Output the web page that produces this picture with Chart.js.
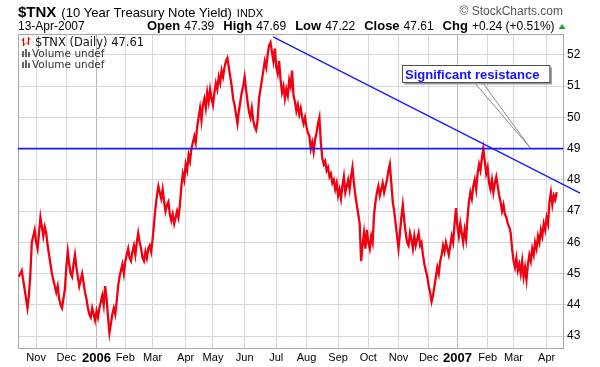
<!DOCTYPE html>
<html lang="en">
<head>
<meta charset="utf-8" />
<title>$TNX daily</title>
<script src="https://cdn.jsdelivr.net/npm/chart.js@4.4.1/dist/chart.umd.min.js"></script>
<style>
  html, body { margin: 0; padding: 0; background: #fff; }
  #wrap { width: 600px; height: 367px; }
</style>
</head>
<body>
<div id="wrap"><canvas id="c" width="600" height="367"></canvas></div>
<script>
// daily close of $TNX, one value per trading day, 14-Oct-2005 .. 13-Apr-2007
const closes = [
  44.9,45.0,45.1,44.8,44.5,44.2,43.9,44.3,45.0,46.0,46.2,46.4,46.0,45.8,46.3,46.8,46.5,46.2,46.5,46.3,45.9,45.6,45.3,45.0,44.8,
  44.6,44.4,44.6,44.2,44.0,43.9,44.2,44.5,45.2,45.7,45.3,45.0,44.9,45.3,45.6,45.2,44.9,44.6,44.8,45.0,44.7,44.4,44.2,43.9,43.7,
  43.6,43.9,43.7,43.5,43.8,43.6,43.9,44.1,44.3,44.0,44.6,44.2,43.6,43.1,43.4,43.7,43.9,43.7,44.1,44.6,44.9,45.1,45.3,45.0,45.4,
  45.6,45.8,45.5,45.4,45.7,45.9,45.6,46.0,46.3,46.0,45.8,45.5,45.4,45.7,45.5,45.8,45.9,45.7,46.1,46.6,47.1,47.5,47.8,47.6,47.4,
  47.7,47.3,47.0,47.2,47.3,46.9,46.7,46.9,46.6,46.8,47.0,46.8,47.2,47.8,48.2,48.0,48.5,48.3,48.8,48.6,49.0,49.2,49.4,49.2,49.7,
  50.0,50.3,49.9,50.4,50.6,50.3,50.8,50.5,50.9,50.6,50.4,50.8,51.1,50.9,51.3,51.1,51.5,51.3,51.6,51.8,51.9,51.6,51.3,51.0,50.6,
  50.4,50.1,49.8,50.2,50.5,50.8,51.0,51.3,50.9,50.5,50.2,50.0,50.3,49.9,49.7,49.6,49.9,50.6,50.9,51.2,51.5,51.8,51.6,52.0,52.3,
  52.4,52.1,51.8,52.2,51.6,51.4,51.8,51.2,50.8,51.0,50.6,50.9,50.7,51.2,51.0,51.5,50.7,50.5,50.2,50.4,50.1,50.3,50.0,49.8,50.0,
  49.7,49.5,49.4,49.0,49.2,48.9,49.3,49.5,49.8,50.0,49.2,48.7,48.5,48.6,48.3,48.4,48.1,48.2,47.9,48.0,47.7,47.9,47.5,47.7,47.4,
  47.8,48.1,47.6,47.8,48.0,47.7,48.1,48.4,47.9,47.5,47.2,46.9,46.6,45.4,45.9,46.3,45.8,46.4,46.0,45.8,46.2,46.0,46.9,47.3,47.6,
  47.8,47.5,47.7,47.9,47.6,47.8,48.0,48.3,48.5,47.9,47.3,47.0,46.6,46.2,45.8,46.3,46.8,47.2,46.7,46.3,46.0,45.9,46.3,46.1,45.8,
  46.2,45.9,46.1,46.3,45.9,46.0,45.6,45.3,45.1,44.9,44.6,44.4,44.1,44.3,44.6,44.9,45.2,45.0,45.4,45.6,45.9,45.7,46.0,45.8,45.6,
  45.9,46.2,46.0,46.6,47.1,46.5,46.2,46.6,46.3,46.0,46.4,46.1,46.8,47.3,47.6,47.4,47.8,48.0,47.7,48.2,48.5,48.3,48.7,49.0,48.6,
  48.2,48.4,47.9,47.7,48.0,47.6,47.9,48.1,47.8,47.5,47.3,47.0,47.2,46.9,46.8,46.6,46.5,46.3,45.8,45.4,45.2,45.5,45.1,45.3,45.0,
  45.4,44.9,45.2,44.8,45.3,45.6,45.4,45.8,45.6,46.0,45.8,46.2,46.0,46.4,46.2,46.6,46.4,46.8,46.6,47.3,47.6,47.2,47.5,47.37,47.61
]

// month gridlines (trading-day index of first bar of each month)
const monthTicks = [12, 33, 54, 74, 93, 116, 135, 157, 179, 200, 222, 243, 264, 285, 305, 326, 344, 367]
const monthLabels = ['Nov', 'Dec', '2006', 'Feb', 'Mar', 'Apr', 'May', 'Jun', 'Jul', 'Aug', 'Sep', 'Oct', 'Nov', 'Dec', '2007', 'Feb', 'Mar', 'Apr']
const yearTicks = [54, 305]
const yTicks = [43, 44, 45, 46, 47, 48, 49, 50, 51, 52]

// drawn lines
const resistanceLevel = 49
const trendX = [176.8, 390.3]
const trendY = [52.58, 47.58]

// callout: box anchor and pointer tip, in data units
const noteText = 'Significant resistance'
const noteAnchor = [266.5, 51.68]
const noteTip = [355.5, 49.03]

const xMin = -0.6, xMax = 378.4
const yMin = 42.62, yMax = 52.67

const SANS = '"Liberation Sans", Arial, sans-serif'
const DJV = '"DejaVu Sans", Verdana, sans-serif'

const overlay = {
  id: 'overlay',
  beforeDatasetsDraw(chart) {
    const { ctx, chartArea: a } = chart
    ctx.save()
    ctx.strokeStyle = '#a8a8a8'
    ctx.lineWidth = 1
    ctx.beginPath()
    ctx.moveTo(a.left + 0.5, a.bottom)
    ctx.lineTo(a.left + 0.5, a.top + 0.5)
    ctx.lineTo(a.right, a.top + 0.5)
    ctx.stroke()
    ctx.restore()
  },
  afterDatasetsDraw(chart) {
    const { ctx } = chart
    const xs = chart.scales.x, ys = chart.scales.y
    ctx.save()
    // callout
    ctx.font = 'bold 13px ' + SANS
    const tw = ctx.measureText(noteText).width
    const bx = Math.round(xs.getPixelForValue(noteAnchor[0])) + 0.5
    const by = Math.round(ys.getPixelForValue(noteAnchor[1])) + 0.5
    const bw = tw + 13, bh = 17
    const tx = xs.getPixelForValue(noteTip[0]), ty = ys.getPixelForValue(noteTip[1])
    ctx.beginPath()
    ctx.moveTo(bx + 72, by + bh)
    ctx.lineTo(tx, ty)
    ctx.lineTo(bx + 80, by + bh)
    ctx.closePath()
    ctx.fillStyle = '#fff'
    ctx.fill()
    ctx.strokeStyle = '#8a8a8a'
    ctx.lineWidth = 1
    ctx.stroke()
    ctx.fillStyle = '#9a9a9a'
    ctx.fillRect(bx + 2, by + 2, bw, bh)
    ctx.fillStyle = '#fff'
    ctx.fillRect(bx, by, bw, bh)
    ctx.strokeStyle = '#505050'
    ctx.strokeRect(bx, by, bw, bh)
    ctx.fillStyle = '#1212ff'
    ctx.textBaseline = 'alphabetic'
    ctx.fillText(noteText, bx + 2.5, by + 13)
    ctx.restore()
  },
  afterDraw(chart) {
    const { ctx } = chart
    ctx.save()
    ctx.textBaseline = 'alphabetic'
    ctx.fillStyle = '#000'
    // title line
    let x = 18
    ctx.font = 'bold 15px ' + SANS
    ctx.fillText('$TNX', x, 17)
    x += ctx.measureText('$TNX').width + 5
    ctx.font = '13px ' + SANS
    ctx.fillText('(10 Year Treasury Note Yield)', x, 17)
    x += ctx.measureText('(10 Year Treasury Note Yield)').width + 5
    ctx.font = '11px ' + SANS
    ctx.fillText('INDX', x, 17)

    ctx.fillStyle = '#555'
    ctx.font = '12px ' + SANS
    ctx.textAlign = 'right'
    ctx.fillText('\u00A9 StockCharts.com', 563, 15)
    ctx.textAlign = 'left'

    ctx.fillStyle = '#000'
    ctx.font = '12px ' + SANS
    ctx.fillText('13-Apr-2007', 18, 30)
    const stats = [['Open', '47.39'], ['High', '47.69'], ['Low', '47.22'], ['Close', '47.61'], ['Chg', '+0.24 (+0.51%)']]
    x = 147
    stats.forEach(([k, v], i) => {
      ctx.font = 'bold 13px ' + SANS
      ctx.fillText(k, x, 30)
      x += ctx.measureText(k).width + 4
      ctx.font = '12px ' + SANS
      ctx.fillText(v, x, 30)
      x += ctx.measureText(v).width + (i < stats.length - 1 ? 9 : 4)
    })
    ctx.fillStyle = '#2f9a2f'
    ctx.beginPath()
    ctx.moveTo(x, 29)
    ctx.lineTo(x + 7, 29)
    ctx.lineTo(x + 3.5, 24)
    ctx.closePath()
    ctx.fill()

    // legend inside the plot
    ctx.strokeStyle = '#e00000'
    ctx.lineWidth = 1.2
    ctx.beginPath()
    ctx.moveTo(23.5, 38); ctx.lineTo(23.5, 46)
    ctx.moveTo(21.5, 40); ctx.lineTo(23.5, 40)
    ctx.moveTo(23.5, 44); ctx.lineTo(25.5, 44)
    ctx.moveTo(28.5, 37); ctx.lineTo(28.5, 45)
    ctx.moveTo(26.5, 43); ctx.lineTo(28.5, 43)
    ctx.moveTo(28.5, 39); ctx.lineTo(30.5, 39)
    ctx.stroke()
    ctx.fillStyle = '#111'
    ctx.font = '11.5px ' + DJV
    ctx.fillText('$TNX (Daily) 47.61', 35, 46)
    ;[57, 68].forEach(yb => {
      ctx.fillStyle = '#666'
      ctx.fillRect(22, yb - 6, 2, 6)
      ctx.fillRect(25, yb - 8, 2, 8)
      ctx.fillRect(28, yb - 5, 2, 5)
      ctx.fillStyle = '#333'
      ctx.font = '10.5px ' + DJV
      ctx.fillText('Volume undef', 32, yb)
    })
    ctx.restore()
  }
}

new Chart(document.getElementById('c'), {
  type: 'line',
  data: {
    datasets: [
      {
        data: [{ x: xMin, y: resistanceLevel }, { x: xMax, y: resistanceLevel }],
        borderColor: '#1a1aff', borderWidth: 1.6, pointRadius: 0, order: 1
      },
      {
        data: trendX.map((v, i) => ({ x: v, y: trendY[i] })),
        borderColor: '#1a1aff', borderWidth: 1.4, pointRadius: 0, clip: false, order: 1
      },
      {
        data: closes.map((v, i) => ({ x: i, y: v })),
        borderColor: '#f00010', borderWidth: 2.3, pointRadius: 0, tension: 0, order: 2
      }
    ]
  },
  options: {
    responsive: false,
    animation: false,
    events: [],
    layout: { padding: { left: 18, top: 34, right: 0, bottom: 0 } },
    plugins: { legend: { display: false }, tooltip: { enabled: false } },
    scales: {
      x: {
        type: 'linear', min: xMin, max: xMax,
        afterBuildTicks: s => { s.ticks = monthTicks.map(v => ({ value: v })) },
        afterFit: s => { s.height = 19 },
        ticks: {
          autoSkip: false, maxRotation: 0, padding: 3, color: '#000',
          callback: v => monthLabels[monthTicks.indexOf(v)],
          font: c => (c.tick && yearTicks.includes(c.tick.value))
            ? { family: SANS, size: 13, weight: 'bold' }
            : { family: SANS, size: 11 }
        },
        grid: {
          drawTicks: false,
          color: c => (c.tick && yearTicks.includes(c.tick.value)) ? '#b8b8b8' : '#d8d8d8'
        },
        border: { color: '#a8a8a8' }
      },
      y: {
        position: 'right', min: yMin, max: yMax,
        afterBuildTicks: s => { s.ticks = yTicks.map(v => ({ value: v })) },
        afterFit: s => { s.width = 37 },
        ticks: { color: '#000', padding: 1, font: { family: SANS, size: 12 } },
        grid: { color: '#d8d8d8', tickLength: 3 },
        border: { color: '#a8a8a8' }
      }
    }
  },
  plugins: [overlay]
})
</script>
</body>
</html>
